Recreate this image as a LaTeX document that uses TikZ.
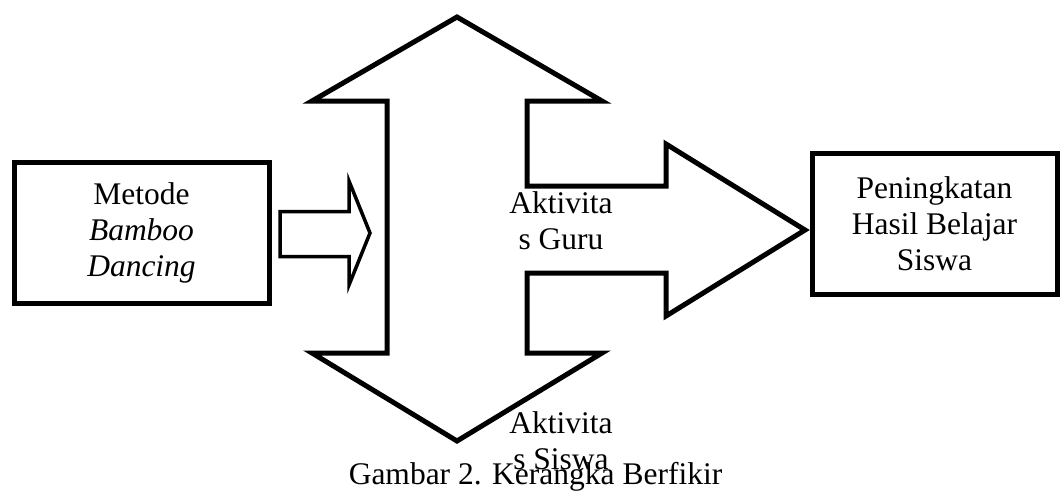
\documentclass[tikz,border=0pt]{standalone}
\usepackage{fontspec}
\setmainfont{Liberation Serif}
\begin{document}
\begin{tikzpicture}[x=1pt,y=-1pt,
  every node/.style={font=\fontsize{31.5pt}{36pt}\selectfont},
  framebox/.style={draw=black,line width=5pt,inner sep=0pt,align=center},
  blockarrow/.style={draw=black,fill=white,line width=5pt,line join=miter,miter limit=20},
  thinarrow/.style={draw=black,fill=white,line width=3.5pt,line join=miter,miter limit=20},
  label/.style={align=center,inner sep=0pt}]
  % page
  \path[use as bounding box,fill=white] (0,0) rectangle (1062,491);

  % input and output boxes
  \node[framebox,minimum width=255pt,minimum height=141.5pt] (metode) at (141.5,233)
    {Metode\\\textit{Bamboo}\\\textit{Dancing}};
  \node[framebox,minimum width=245pt,minimum height=141pt] (hasil) at (934.5,223.5)
    {Peningkatan\\Hasil Belajar\\Siswa};

  % small arrow from the method box into the activity arrow
  \coordinate (sa) at (280,211.5);
  \draw[thinarrow] (sa) -- (349,211.5) -- (349,181) -- (370,233) -- (349,285)
    -- (349,256.5) -- (280,256.5) -- cycle;

  % double vertical arrow with a branch to the right
  \coordinate (top) at (457,17);
  \coordinate (bottom) at (457,441);
  \coordinate (tip) at (805,230);
  \draw[blockarrow] (top) -- (602,101) -- (527,101) -- (527,186) -- (666,186)
    -- (666,144) -- (tip) -- (666,316) -- (666,273) -- (527,273) -- (527,353)
    -- (602,353) -- (bottom) -- (312,353) -- (387,353) -- (387,101)
    -- (312,101) -- cycle;

  % labels (base anchor sits on the last line)
  \node[label,anchor=base] (guru) at (561,249) {Aktivita\\s Guru};
  \node[label,anchor=base] (siswa) at (561,469) {Aktivita\\s Siswa};
  \node[label,anchor=base] (caption) at (535.5,484) {Gambar 2. Kerangka Berfikir};
\end{tikzpicture}
\end{document}
